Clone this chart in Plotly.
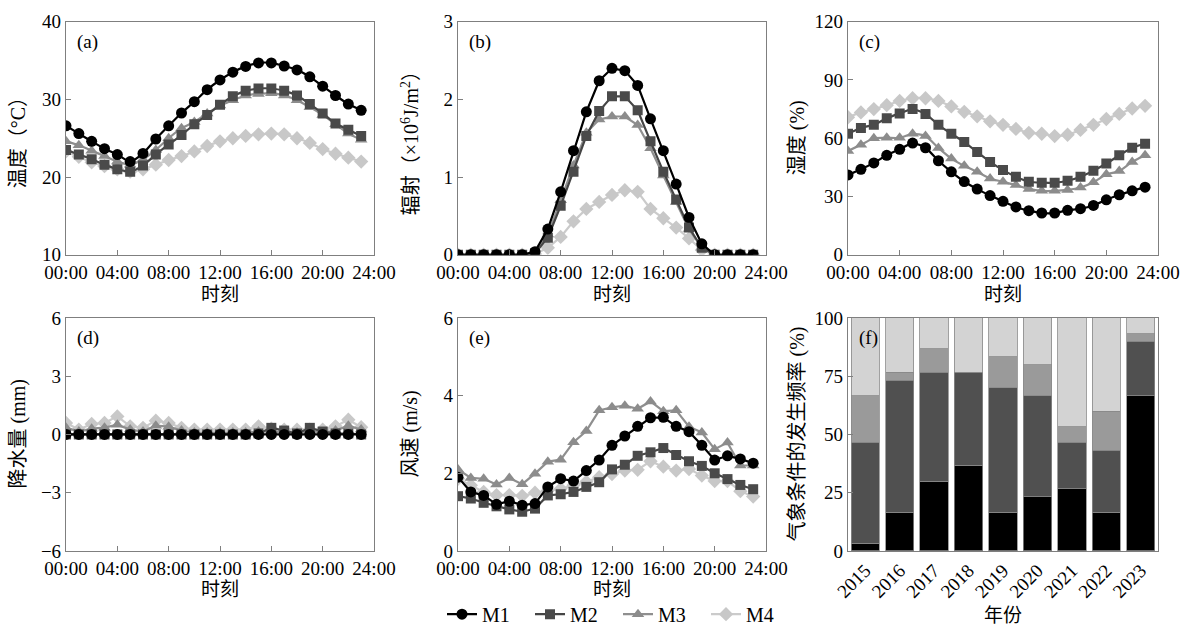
import plotly.graph_objects as go
from plotly.subplots import make_subplots

hours = list(range(24))
series = ["M1", "M2", "M3", "M4"]

# (a) temperature
temp_m1 = [26.6, 25.6, 24.6, 23.65, 22.9, 22.0, 23.05, 24.9, 26.6, 28.25, 29.7, 31.25,
           32.5, 33.5, 34.25, 34.7, 34.7, 34.3, 33.8, 32.9, 31.7, 30.5, 29.4, 28.6]
temp_m2 = [23.5, 22.9, 22.3, 21.6, 21.0, 20.7, 21.5, 22.9, 24.2, 25.4, 26.8, 28.0,
           29.3, 30.4, 31.1, 31.4, 31.4, 31.1, 30.5, 29.4, 28.2, 26.9, 26.1, 25.3]
temp_m3 = [24.6, 24.1, 23.4, 22.7, 22.0, 21.6, 22.3, 23.5, 25.0, 26.3, 27.1, 28.2,
           29.2, 29.9, 30.5, 30.7, 30.8, 30.5, 29.9, 29.0, 28.0, 26.8, 25.6, 24.8]
temp_m4 = [23.3, 22.6, 21.9, 21.4, 21.0, 20.7, 21.0, 21.6, 22.2, 22.7, 23.3, 24.0,
           24.6, 25.0, 25.3, 25.5, 25.6, 25.5, 25.0, 24.4, 23.6, 23.0, 22.5, 22.0]

# (b) radiation (x10^6 J/m2)
rad_m1 = [0, 0, 0, 0, 0, 0, 0.04, 0.33, 0.81, 1.34, 1.84, 2.24,
          2.40, 2.37, 2.18, 1.75, 1.34, 0.91, 0.48, 0.14, 0, 0, 0, 0]
rad_m2 = [0, 0, 0, 0, 0, 0, 0.02, 0.22, 0.63, 1.07, 1.53, 1.85,
          2.04, 2.04, 1.86, 1.46, 1.07, 0.71, 0.35, 0.09, 0, 0, 0, 0]
rad_m3 = [0, 0, 0, 0, 0, 0, 0.02, 0.26, 0.70, 1.15, 1.57, 1.74,
          1.78, 1.78, 1.67, 1.37, 1.02, 0.68, 0.33, 0.09, 0, 0, 0, 0]
rad_m4 = [0, 0, 0, 0, 0, 0, 0.01, 0.09, 0.23, 0.43, 0.59, 0.68,
          0.77, 0.83, 0.81, 0.59, 0.47, 0.35, 0.21, 0.06, 0, 0, 0, 0]

# (c) humidity
hum_m1 = [41.1, 44.0, 47.3, 51.2, 54.3, 57.5, 55.1, 48.4, 42.7, 37.7, 33.8, 30.5,
          27.5, 24.6, 22.7, 21.5, 21.5, 22.9, 23.7, 25.4, 28.3, 30.9, 32.9, 34.8]
hum_m2 = [62.3, 65.3, 67.0, 70.3, 72.8, 75.0, 72.5, 66.9, 62.3, 58.0, 52.9, 47.8,
          43.6, 40.2, 37.6, 37.1, 37.1, 38.1, 40.2, 43.3, 47.0, 51.2, 55.1, 57.2]
hum_m3 = [53.4, 56.6, 60.0, 60.2, 60.2, 62.3, 61.1, 55.0, 49.5, 45.8, 42.7, 39.3,
          37.6, 35.9, 33.9, 32.9, 32.9, 33.4, 34.6, 37.3, 41.4, 43.1, 47.8, 51.2]
hum_m4 = [70.8, 73.3, 75.0, 77.0, 79.2, 80.6, 80.6, 79.2, 76.4, 73.6, 71.3, 68.7,
          66.9, 64.8, 62.8, 62.3, 61.1, 61.8, 64.3, 66.9, 69.9, 72.5, 75.3, 76.7]

# (d) precipitation
pre_m1 = [0] * 24
pre_m2 = [0, 0, 0, 0, 0, 0, 0, 0, 0, 0, 0, 0,
          0, 0, 0, 0.05, 0.34, 0.2, 0.05, 0.34, 0.15, 0.05, 0.05, 0]
pre_m3 = [0.35, 0.15, 0.3, 0.35, 0.5, 0.25, 0.15, 0.45, 0.4, 0.2, 0.1, 0.1,
          0.1, 0.1, 0.1, 0.15, 0.15, 0.1, 0.1, 0.15, 0.1, 0.2, 0.45, 0.25]
pre_m4 = [0.59, 0.25, 0.54, 0.59, 0.93, 0.42, 0.34, 0.71, 0.59, 0.34, 0.25, 0.25,
          0.25, 0.25, 0.25, 0.42, 0.3, 0.25, 0.25, 0.25, 0.25, 0.42, 0.76, 0.37]

# (e) wind speed
wind_m1 = [1.9, 1.52, 1.43, 1.2, 1.28, 1.18, 1.22, 1.65, 1.86, 1.8, 2.07, 2.34,
           2.72, 2.96, 3.21, 3.43, 3.44, 3.21, 3.07, 2.72, 2.34, 2.45, 2.37, 2.26]
wind_m2 = [1.41, 1.35, 1.24, 1.15, 1.07, 1.01, 1.09, 1.43, 1.46, 1.52, 1.65, 1.77,
           2.1, 2.22, 2.45, 2.54, 2.65, 2.47, 2.31, 2.19, 2.0, 1.85, 1.7, 1.59]
wind_m3 = [2.1, 1.88, 1.86, 1.71, 1.88, 1.72, 1.99, 2.3, 2.35, 2.8, 3.09, 3.62,
           3.7, 3.74, 3.66, 3.85, 3.6, 3.62, 3.2, 3.05, 2.62, 2.79, 2.2, 2.2]
wind_m4 = [1.86, 1.69, 1.52, 1.44, 1.44, 1.42, 1.5, 1.56, 1.6, 1.69, 1.78, 1.9,
           1.98, 2.07, 2.09, 2.31, 2.17, 2.07, 2.11, 1.94, 1.8, 1.8, 1.54, 1.4]

# (f) occurrence frequency by year (%)
years = ["2015", "2016", "2017", "2018", "2019", "2020", "2021", "2022", "2023"]
freq_m1 = [3.3, 16.7, 30.0, 36.7, 16.7, 23.3, 26.7, 16.7, 66.7]
freq_m2 = [43.4, 56.6, 46.7, 40.0, 53.3, 43.4, 20.0, 26.6, 23.3]
freq_m3 = [20.0, 3.4, 10.0, 0.0, 13.3, 13.3, 6.6, 16.7, 3.3]
freq_m4 = [33.3, 23.3, 13.3, 23.3, 16.7, 20.0, 46.7, 40.0, 6.7]

line_colors = {"M1": "#000000", "M2": "#454545", "M3": "#8f8f8f", "M4": "#cbcbcb"}
marker_colors = {"M1": "#000000", "M2": "#4a4a4a", "M3": "#8c8c8c", "M4": "#c8c8c8"}
symbols = {"M1": "circle", "M2": "square", "M3": "triangle-up", "M4": "diamond"}
msizes = {"M1": 11, "M2": 10, "M3": 11, "M4": 11}
bar_colors = {"M1": "#000000", "M2": "#505050", "M3": "#9a9a9a", "M4": "#d3d3d3"}

FONT = "'Liberation Serif', 'Noto Sans CJK SC'"
W, H = 1187, 634

fig = make_subplots(rows=2, cols=3)

panels = [
    (1, 1, [temp_m1, temp_m2, temp_m3, temp_m4], "spline"),
    (1, 2, [rad_m1, rad_m2, rad_m3, rad_m4], "linear"),
    (1, 3, [hum_m1, hum_m2, hum_m3, hum_m4], "spline"),
    (2, 1, [pre_m1, pre_m2, pre_m3, pre_m4], "linear"),
    (2, 2, [wind_m1, wind_m2, wind_m3, wind_m4], "linear"),
]

for row, col, data, shape in panels:
    # draw M4 first so M1 ends up on top
    for name, vals in reversed(list(zip(series, data))):
        fig.add_trace(
            go.Scatter(
                x=hours, y=vals, name=name, mode="lines+markers",
                line=dict(color=line_colors[name], width=2.2, shape=shape, smoothing=0.6),
                marker=dict(symbol=symbols[name], size=msizes[name], color=marker_colors[name]),
                showlegend=(row == 2 and col == 2),
            ),
            row=row, col=col,
        )

for name, vals in zip(series, [freq_m1, freq_m2, freq_m3, freq_m4]):
    fig.add_trace(
        go.Bar(x=years, y=vals, name=name, marker=dict(color=bar_colors[name],
               line=dict(color="#8a8a8a", width=0.8)), showlegend=False),
        row=2, col=3,
    )


def xd(l, r):
    return [l / W, r / W]


def yd(t, b):
    return [1 - b / H, 1 - t / H]


xdoms = [xd(66, 374), xd(458, 766), xd(848, 1158)]
ydoms = [yd(22, 258), yd(322, 558)]

axis_style = dict(
    showline=True, linecolor="#7f7f7f", linewidth=1.2, mirror=True,
    ticks="inside", ticklen=5, tickcolor="#7f7f7f", showgrid=False, zeroline=False,
    tickfont=dict(family=FONT, size=19, color="#000"), automargin=False,
)

time_ticks = [0, 4, 8, 12, 16, 20, 24]
time_labels = ["00:00", "04:00", "08:00", "12:00", "16:00", "20:00", "24:00"]

y_settings = [
    ("温度（°C）", [10, 40], [10, 20, 30, 40]),
    ("辐射（×10<sup>6</sup>J/m<sup>2</sup>）", [0, 3], [0, 1, 2, 3]),
    ("湿度 (%)", [0, 120], [0, 30, 60, 90, 120]),
    ("降水量 (mm)", [-6, 6], [-6, -3, 0, 3, 6]),
    ("风速 (m/s)", [0, 6], [0, 2, 4, 6]),
    ("气象条件的发生频率 (%)", [0, 100], [0, 25, 50, 75, 100]),
]

# pixel positions of the axis titles
ytitle_x = [18, 410, 797, 18, 410, 797]
xtitle_y = [298, 298, 298, 597, 597, 623]
labels = ["(a)", "(b)", "(c)", "(d)", "(e)", "(f)"]

for i in range(6):
    r, c = divmod(i, 3)
    suffix = "" if i == 0 else str(i + 1)
    title, yrange, yticks = y_settings[i]
    xa = dict(axis_style, domain=xdoms[c])
    if i < 5:
        xa.update(range=[0, 24], tickvals=time_ticks, ticktext=time_labels)
        xtitle = "时刻"
    else:
        xa.update(range=[-0.5, 8.5], tickangle=-45, ticks="")
        xtitle = "年份"
    ya = dict(axis_style, domain=ydoms[r], range=yrange, tickvals=yticks)
    fig.layout["xaxis" + suffix].update(xa)
    fig.layout["yaxis" + suffix].update(ya)

    ymid = 1 - ((22 + 258) / 2 if r == 0 else (322 + 558) / 2) / H
    fig.add_annotation(
        text=title, xref="paper", yref="paper", x=ytitle_x[i] / W, y=ymid,
        textangle=-90, xanchor="center", yanchor="middle", showarrow=False,
        font=dict(family=FONT, size=20, color="#000"),
    )
    xmid = sum(xdoms[c]) / 2
    fig.add_annotation(
        text=xtitle, xref="paper", yref="paper", x=xmid, y=1 - xtitle_y[i] / H,
        xanchor="center", yanchor="middle", showarrow=False,
        font=dict(family=FONT, size=19, color="#000"),
    )
    fig.add_annotation(
        text=labels[i], xref="x%s domain" % suffix, yref="y%s domain" % suffix,
        x=0.028, y=0.915, xanchor="left", yanchor="middle", showarrow=False,
        font=dict(family=FONT, size=19, color="#000"),
    )

fig.update_layout(
    width=W, height=H,
    margin=dict(l=0, r=0, t=0, b=0),
    paper_bgcolor="white", plot_bgcolor="white",
    barmode="stack", bargap=0.18,
    font=dict(family=FONT, size=19, color="#000"),
    legend=dict(
        orientation="h", x=442 / W, y=1 - 622 / H, xanchor="left", yanchor="middle",
        traceorder="reversed", entrywidth=43, entrywidthmode="pixels",
        font=dict(family=FONT, size=20), bgcolor="rgba(0,0,0,0)",
    ),
)

fig.write_html("out.html", config={"displayModeBar": False},
               post_script="document.body.style.margin='0';")
